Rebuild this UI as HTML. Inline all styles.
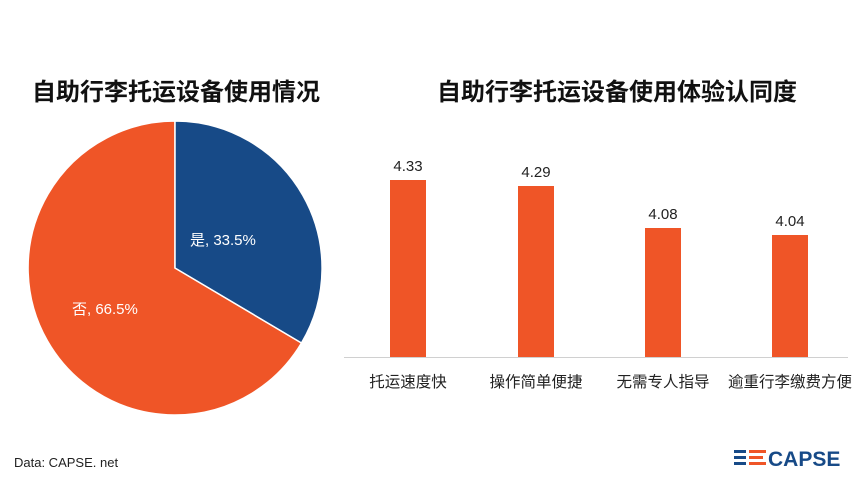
<!DOCTYPE html>
<html><head><meta charset="utf-8"><style>
html,body{margin:0;padding:0;background:#fff;}
svg{display:block;font-family:"Liberation Sans","Noto Sans CJK SC",sans-serif;}
</style></head><body>
<svg width="861" height="482" viewBox="0 0 861 482" xmlns="http://www.w3.org/2000/svg">
<rect width="861" height="482" fill="#fff"/>
<text x="176" y="100" text-anchor="middle" font-size="24" font-weight="bold" fill="#111">自助行李托运设备使用情况</text>
<text x="617" y="100" text-anchor="middle" font-size="24" font-weight="bold" fill="#111">自助行李托运设备使用体验认同度</text>
<path d="M175,268 L301.5,343 A147,147 0 1 1 175,121 Z" fill="#EF5527" stroke="#fff" stroke-width="1.5"/>
<path d="M175,268 L175,121 A147,147 0 0 1 301.5,343 Z" fill="#174A87" stroke="#fff" stroke-width="1.5"/>
<text x="190" y="245" font-size="15" fill="#fff">是, 33.5%</text>
<text x="72" y="314" font-size="15" fill="#fff">否, 66.5%</text>
<line x1="344" y1="357.5" x2="848" y2="357.5" stroke="#d0d0d0" stroke-width="1"/>
<g fill="#EF5527">
<rect x="390" y="180" width="36" height="177"/>
<rect x="518" y="186" width="36" height="171"/>
<rect x="645" y="228" width="36" height="129"/>
<rect x="772" y="235" width="36" height="122"/>
</g>
<g font-size="15" fill="#222" text-anchor="middle">
<text x="408" y="171">4.33</text>
<text x="536" y="177">4.29</text>
<text x="663" y="219">4.08</text>
<text x="790" y="226">4.04</text>
<text x="408" y="387" font-size="15.5">托运速度快</text>
<text x="536" y="387" font-size="15.5">操作简单便捷</text>
<text x="663" y="387" font-size="15.5">无需专人指导</text>
<text x="790" y="387" font-size="15.5">逾重行李缴费方便</text>
</g>
<text x="14" y="467" font-size="13" fill="#222">Data: CAPSE. net</text>
<g>
<rect x="734" y="450" width="12" height="3" fill="#174A87"/>
<rect x="734" y="456" width="12" height="3" fill="#174A87"/>
<rect x="734" y="462" width="12" height="3" fill="#174A87"/>
<rect x="749" y="450" width="17" height="3" fill="#EF5527"/>
<rect x="749" y="456" width="14" height="3" fill="#EF5527"/>
<rect x="749" y="462" width="17" height="3" fill="#EF5527"/>
<text x="768" y="466" font-size="21" font-weight="bold" fill="#174A87">CAPSE</text>
</g>
</svg>
</body></html>
